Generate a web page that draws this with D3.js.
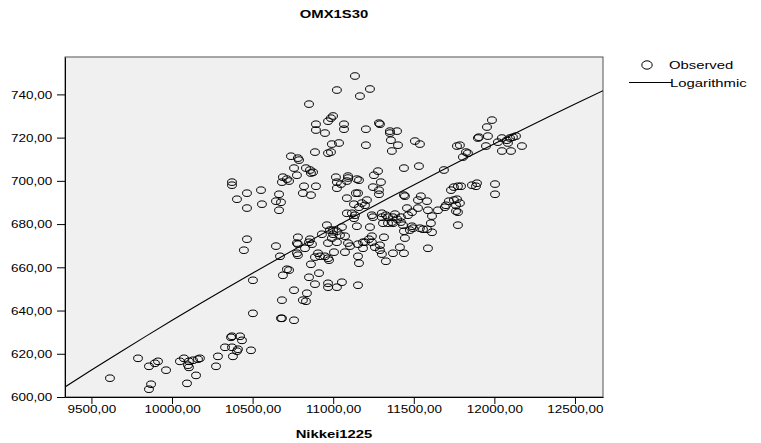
<!DOCTYPE html>
<html>
<head>
<meta charset="utf-8">
<script src="https://cdn.jsdelivr.net/npm/d3@7"></script>
<style>
  body { margin: 0; background: #fff; }
  text { font-family: "Liberation Sans", Arial, Helvetica, sans-serif; fill: #000; }
</style>
</head>
<body>
<svg id="chart" width="761" height="443"></svg>
<script>
// Nikkei1225 (x) vs OMX1S30 (y)
var observed = [
  [9615,608.7],[9789,617.9],[9857,614.2],[9894,615.6],[9913,616.5],[9963,612.4],[9857,603.6],[9870,605.9],
  [10049,616.5],[10074,617.9],[10105,616.5],[10099,614.7],[10105,613.7],[10130,617.0],[10161,617.5],[10173,617.9],
  [10149,610.0],[10093,606.3],[10273,614.2],[10285,618.8],[10329,623.0],[10372,623.0],[10378,618.8],[10409,622.1],
  [10403,621.2],[10372,628.1],[10366,627.6],[10422,628.1],[10434,626.2],[10490,621.6],[10502,638.7],[10502,654.0],
  [10465,673.0],[10446,667.9],[10372,699.4],[10372,698.0],[10465,694.3],[10403,691.5],[10465,687.4],[10552,695.7],
  [10558,689.2],[10664,693.8],[10645,690.6],[10676,690.1],[10664,686.4],[10738,711.4],[10781,710.5],[10788,709.6],
  [10757,705.9],[10775,702.6],[10688,701.7],[10713,700.8],[10726,699.9],[10682,699.4],[10645,669.8],[10670,665.1],
  [10781,670.7],[10775,666.5],[10781,665.6],[10713,659.1],[10726,658.7],[10688,656.3],[10757,649.4],[10682,644.8],
  [10676,636.4],[10682,636.4],[10757,635.5],[10850,735.5],[10893,726.2],[10893,723.5],[10949,722.1],[10999,730.0],
  [10986,729.0],[10968,727.6],[11023,742.0],[11067,726.2],[11067,723.9],[10992,717.0],[11036,717.5],[10986,713.3],
  [10968,712.8],[10887,713.3],[10831,705.9],[10856,705.0],[10862,703.6],[10875,704.0],[10819,697.5],[10893,697.5],
  [10812,694.3],[10862,693.4],[11017,701.7],[11023,699.4],[11048,698.5],[11023,696.6],[11092,702.2],[11085,699.9],
  [11092,701.3],[11135,748.5],[11228,742.5],[11166,739.2],[11203,723.9],[11284,726.7],[11290,726.2],[11352,723.0],
  [11352,722.1],[11396,723.0],[11358,718.8],[11402,716.5],[11364,713.8],[11203,716.5],[11507,718.4],[11538,717.0],
  [11439,705.9],[11532,706.8],[11687,705.0],[11147,700.8],[11160,700.3],[11278,704.5],[11253,702.6],[11296,699.4],
  [11247,697.1],[11284,695.7],[11284,693.8],[11141,694.3],[11154,694.3],[11085,692.0],[11129,689.2],[11178,689.7],
  [11209,691.1],[11160,687.8],[11439,693.4],[11445,692.9],[11544,692.9],[11526,691.1],[11582,690.6],[11197,688.7],
  [11768,716.1],[11898,719.8],[11824,713.3],[11836,712.8],[11805,711.0],[11786,716.5],[11985,728.1],[11954,724.9],
  [11904,720.2],[11960,720.7],[11948,716.1],[12022,717.9],[12047,719.8],[12078,718.8],[12097,719.8],[12115,720.2],
  [12134,720.7],[12084,717.5],[12047,713.8],[12103,713.8],[12171,716.1],[11749,697.1],[11731,695.7],[11774,697.5],
  [11793,697.5],[11861,698.0],[11892,698.9],[11886,697.5],[12004,698.5],[12004,693.8],[11700,688.7],[11718,690.6],
  [11768,691.5],[11749,691.1],[11762,688.7],[11762,686.0],[11786,689.7],[11650,686.4],[11693,687.8],[11588,686.4],
  [11526,687.4],[11489,685.5],[11458,687.4],[11464,684.1],[11613,683.7],[11606,680.4],[11613,676.2],[11774,685.5],
  [11774,679.5],[11588,668.8],[11582,677.6],[11557,677.6],[11538,678.1],[11495,678.1],[11489,679.0],[11439,676.7],
  [11445,673.5],[11476,677.2],[11420,680.9],[11433,679.5],[11371,683.2],[11383,684.6],[11420,683.2],[11396,682.3],
  [11364,680.9],[11302,683.2],[11327,684.1],[11340,683.2],[11309,680.4],[11340,680.4],[11371,680.4],[11247,683.2],
  [11228,678.6],[11315,673.9],[11240,674.4],[11222,673.0],[11197,671.6],[11240,671.6],[11259,669.3],[11290,670.2],
  [11290,667.9],[11302,666.1],[11327,662.8],[11371,666.5],[11414,669.3],[11439,666.5],[11185,671.6],[11085,685.0],
  [11116,685.0],[11135,684.1],[11129,682.7],[11147,679.0],[10961,679.5],[10999,677.2],[11023,676.7],[11042,674.9],
  [10930,675.3],[10856,673.0],[10992,673.5],[11073,674.4],[10850,671.6],[10868,670.7],[10825,668.8],[10968,671.2],
  [11023,671.6],[11092,671.2],[11104,669.8],[11154,670.7],[11185,668.8],[10906,666.5],[10887,664.7],[10918,665.1],
  [10949,665.1],[10968,664.2],[10974,663.3],[11005,667.0],[11073,667.0],[11154,665.1],[11160,661.9],[10862,661.4],
  [10912,657.3],[10850,655.4],[10887,652.2],[10968,652.6],[10968,650.8],[11023,650.8],[11054,653.1],[11154,651.7],
  [10837,648.0],[10812,644.8],[10831,644.3],[10781,673.9],[10775,671.2],[10980,677.2],[11054,678.6],[10999,675.3],
  [11240,684.1],[11302,685.0]
];

// logarithmic fit  y = b0 + b1 * ln(x)
var logFit = { b0: -3495.4, b1: 448.5 };

var xTicks = [9500, 10000, 10500, 11000, 11500, 12000, 12500];
var yTicks = [600, 620, 640, 660, 680, 700, 720, 740];
var xDomain = [9336, 12674];
var yDomain = [600, 757.3];

var title = "OMX1S30";
var xTitle = "Nikkei1225";
var legendLabels = ["Observed", "Logarithmic"];

// the exported picture is stretched sideways, text too
var SX = 1.35;

var plot = { left: 65, right: 603, top: 57, bottom: 397 };

var xScale = d3.scaleLinear().domain(xDomain).range([plot.left, plot.right]);
var yScale = d3.scaleLinear().domain(yDomain).range([plot.bottom, plot.top]);

var comma = function(v) { return d3.format(".2f")(v).replace(".", ","); };

var svg = d3.select("#chart");

svg.append("rect")
    .attr("x", plot.left)
    .attr("y", plot.top)
    .attr("width", plot.right - plot.left)
    .attr("height", plot.bottom - plot.top)
    .attr("fill", "#f0f0f0")
    .attr("stroke", "#555")
    .attr("stroke-width", 1);

// fit line
var fitX = d3.range(0, 21).map(function(i) { return xDomain[0] + (xDomain[1] - xDomain[0]) * i / 20; });
var line = d3.line()
    .x(function(d) { return xScale(d); })
    .y(function(d) { return yScale(logFit.b0 + logFit.b1 * Math.log(d)); });

var clip = svg.append("clipPath").attr("id", "plotclip")
    .append("rect")
    .attr("x", plot.left).attr("y", plot.top)
    .attr("width", plot.right - plot.left).attr("height", plot.bottom - plot.top);

svg.append("g")
    .attr("clip-path", "url(#plotclip)")
    .selectAll("ellipse")
    .data(observed)
    .enter()
    .append("ellipse")
    .attr("cx", function(d) { return xScale(d[0]); })
    .attr("cy", function(d) { return yScale(d[1]); })
    .attr("rx", 4.4)
    .attr("ry", 3.3)
    .attr("fill", "none")
    .attr("stroke", "#000")
    .attr("stroke-width", 1);

svg.append("path")
    .datum(fitX)
    .attr("clip-path", "url(#plotclip)")
    .attr("d", line)
    .attr("fill", "none")
    .attr("stroke", "#000")
    .attr("stroke-width", 1.1);

// axes
var yAxis = svg.append("g")
    .attr("transform", "translate(" + plot.left + ",0)")
    .call(d3.axisLeft(yScale).tickValues(yTicks).tickSize(8).tickSizeOuter(0).tickFormat(comma));
yAxis.select(".domain").attr("stroke", "#000");
yAxis.selectAll(".tick line").attr("stroke", "#000");
yAxis.selectAll(".tick text")
    .attr("font-size", 10)
    .attr("font-family", "'Liberation Sans', Arial, sans-serif")
    .attr("x", -12.7 / SX)
    .attr("dy", null)
    .attr("y", 3.8)
    .attr("transform", "scale(" + SX + ",1)");

var xAxis = svg.append("g")
    .attr("transform", "translate(0," + plot.bottom + ")")
    .call(d3.axisBottom(xScale).tickValues(xTicks).tickSize(7).tickSizeOuter(0).tickFormat(comma));
xAxis.select(".domain").attr("stroke", "#000");
xAxis.selectAll(".tick line").attr("stroke", "#000");
xAxis.selectAll(".tick text")
    .attr("font-size", 10)
    .attr("font-family", "'Liberation Sans', Arial, sans-serif")
    .attr("dy", null)
    .attr("y", 16)
    .attr("transform", "scale(" + SX + ",1)");

// texts
var stretched = function(x, y, str, size, weight, anchor) {
    svg.append("g")
        .attr("transform", "translate(" + x + "," + y + ") scale(" + SX + ",1)")
        .append("text")
        .text(str)
        .attr("font-size", size)
        .attr("font-weight", weight)
        .attr("text-anchor", anchor);
};

stretched((plot.left + plot.right) / 2, 18, title, 11, "bold", "middle");
stretched((plot.left + plot.right) / 2, 438, xTitle, 11, "bold", "middle");

// legend
svg.append("ellipse")
    .attr("cx", 647).attr("cy", 65)
    .attr("rx", 5.2).attr("ry", 4.2)
    .attr("fill", "none").attr("stroke", "#000").attr("stroke-width", 1);
stretched(669, 69, legendLabels[0], 11, "normal", "start");

svg.append("line")
    .attr("x1", 629).attr("x2", 672)
    .attr("y1", 82.5).attr("y2", 82.5)
    .attr("stroke", "#000").attr("stroke-width", 1);
stretched(670, 86.5, legendLabels[1], 11, "normal", "start");
</script>
</body>
</html>
